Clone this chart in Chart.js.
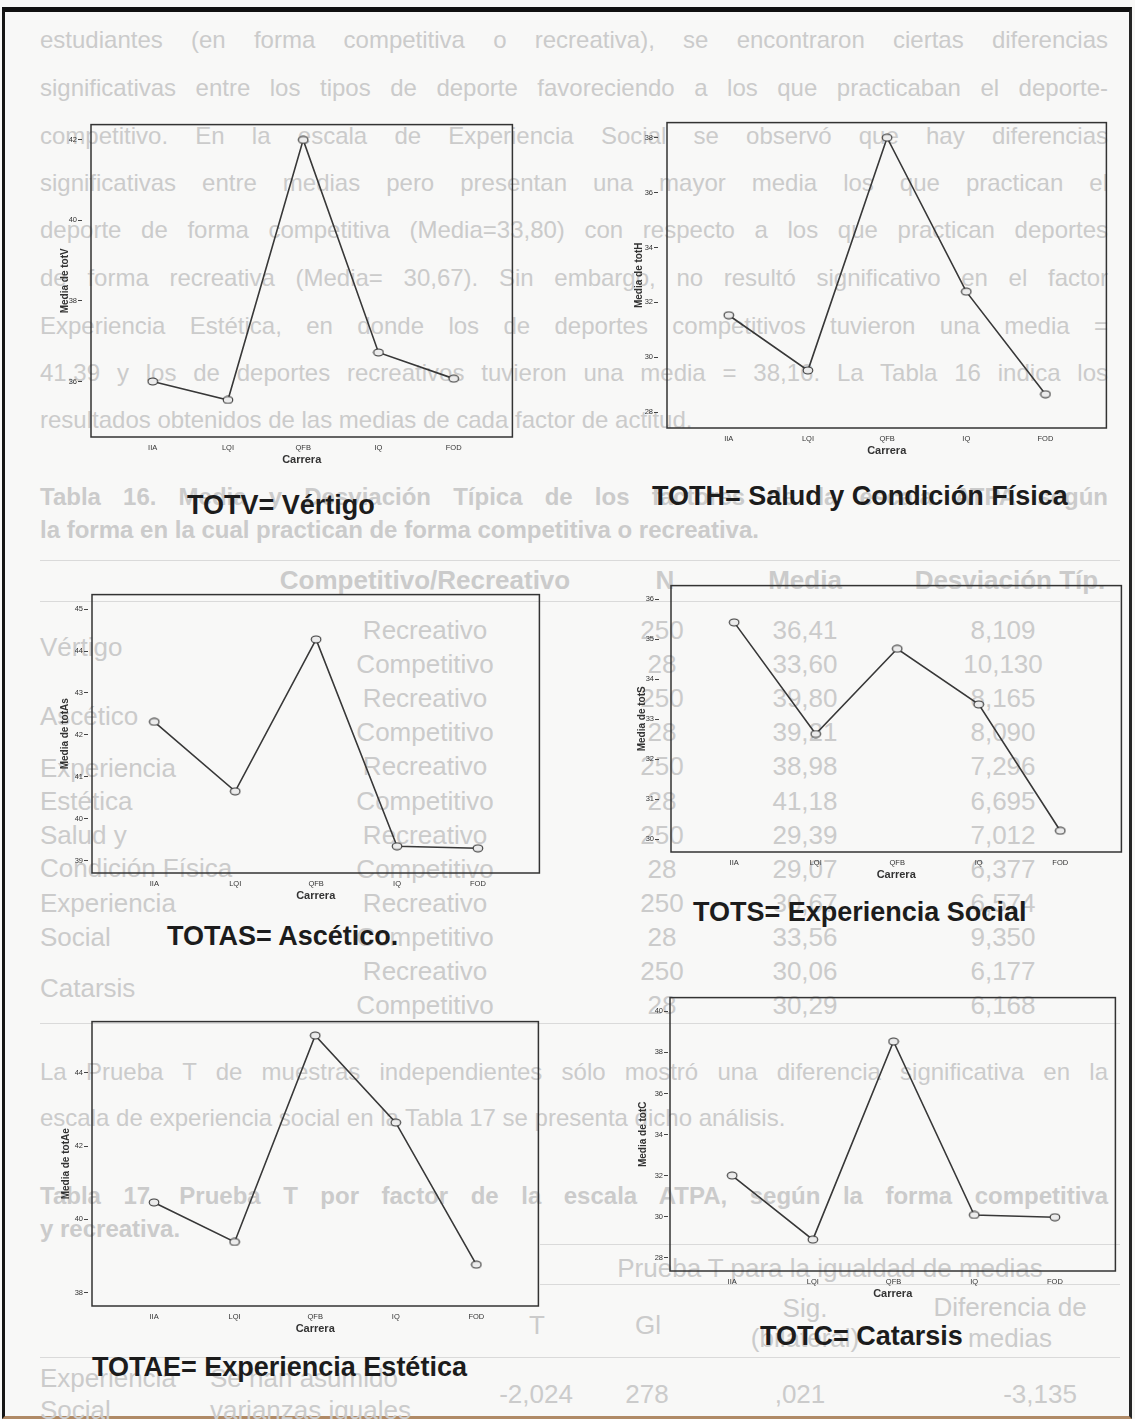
<!DOCTYPE html>
<html>
<head>
<meta charset="utf-8">
<script src="https://cdn.jsdelivr.net/npm/chart.js@4.4.1/dist/chart.umd.min.js"></script>
<style>
    html, body { margin: 0; padding: 0; }
    body {
        width: 1135px;
        height: 1419px;
        position: relative;
        overflow: hidden;
        background: #f8f8f7;
        font-family: "Liberation Sans", Arial, sans-serif;
    }
    .frame {
        position: absolute;
        left: 2px;
        top: 7px;
        width: 1124px;
        height: 1404px;
        border-left: 3px solid #151515;
        border-right: 3px solid #252525;
        border-top: 5px solid #111;
        border-bottom: 3px solid #b08a66;
    }
    /* faint page text showing through behind the plots */
    .ghost {
        position: absolute;
        color: #cbcbcb;
        font-size: 26px;
        line-height: 30px;
        white-space: nowrap;
    }
    .ghost.line {
        left: 40px;
        width: 1068px;
        font-size: 24px;
        line-height: 28px;
    }
    .ghost.p { font-size: 24px; line-height: 28px; }
    .ghost.b { font-weight: bold; }
    .ghost.c { text-align: center; }
    .rule { position: absolute; left: 40px; width: 1080px; height: 1px; background: #dadada; }
    .chart { position: absolute; }
    .title {
        position: absolute;
        font-weight: bold;
        font-size: 27px;
        line-height: 27px;
        color: #1c1c1c;
        white-space: nowrap;
    }
</style>
</head>
<body>
<div class="frame"></div>

<div class="ghost line" style="top:26px;"><span>estudiantes (en forma competitiva o recreativa), se encontraron ciertas diferencias</span></div>
<div class="ghost line" style="top:74px;"><span>significativas entre los tipos de deporte favoreciendo a los que practicaban el deporte-</span></div>
<div class="ghost line" style="top:122px;"><span>competitivo. En la escala de Experiencia Social se observó que hay diferencias</span></div>
<div class="ghost line" style="top:169px;"><span>significativas entre medias pero presentan una mayor media los que practican el</span></div>
<div class="ghost line" style="top:216px;"><span>deporte de forma competitiva (Media=33,80) con respecto a los que practican deportes</span></div>
<div class="ghost line" style="top:264px;"><span>de forma recreativa (Media= 30,67). Sin embargo, no resultó significativo en el factor</span></div>
<div class="ghost line" style="top:312px;"><span>Experiencia Estética, en donde los de deportes competitivos tuvieron una media =</span></div>
<div class="ghost line" style="top:359px;"><span>41,39 y los de deportes recreativos tuvieron una media = 38,16. La Tabla 16 indica los</span></div>
<div class="ghost p" style="left:40px; top:406px;">resultados obtenidos de las medias de cada factor de actitud.</div>

<div class="ghost line b" style="top:483px;"><span>Tabla 16. Media y Desviación Típica de los factores de la escala ATPA según</span></div>
<div class="ghost p b" style="left:40px; top:516px;">la forma en la cual practican de forma competitiva o recreativa.</div>

<div class="rule" style="top:560px;"></div>
<div class="ghost b c" style="left:260px; width:330px; top:565px;">Competitivo/Recreativo</div>
<div class="ghost b c" style="left:620px; width:90px; top:565px;">N</div>
<div class="ghost b c" style="left:750px; width:110px; top:565px;">Media</div>
<div class="ghost b c" style="left:900px; width:220px; top:565px;">Desviación Típ.</div>
<div class="rule" style="top:601px;"></div>

<div class="ghost" style="left:40px; top:632px;">Vértigo</div>
<div class="ghost" style="left:40px; top:701px;">Ascético</div>
<div class="ghost" style="left:40px; top:753px;">Experiencia</div>
<div class="ghost" style="left:40px; top:786px;">Estética</div>
<div class="ghost" style="left:40px; top:820px;">Salud y</div>
<div class="ghost" style="left:40px; top:853px;">Condición Física</div>
<div class="ghost" style="left:40px; top:888px;">Experiencia</div>
<div class="ghost" style="left:40px; top:922px;">Social</div>
<div class="ghost" style="left:40px; top:973px;">Catarsis</div>

<div id="tableRows"></div>
<div class="rule" style="top:1023px;"></div>

<div class="ghost line" style="top:1058px;"><span>La Prueba T de muestras independientes sólo mostró una diferencia significativa en la</span></div>
<div class="ghost p" style="left:40px; top:1104px;">escala de experiencia social en la Tabla 17 se presenta dicho análisis.</div>
<div class="ghost line b" style="top:1182px;"><span>Tabla 17. Prueba T por factor de la escala ATPA, según la forma competitiva</span></div>
<div class="ghost p b" style="left:40px; top:1215px;">y recreativa.</div>
<div class="rule" style="left:540px; width:580px; top:1244px;"></div>
<div class="ghost c" style="left:550px; width:560px; top:1253px;">Prueba T para la igualdad de medias</div>
<div class="rule" style="left:540px; width:580px; top:1284px;"></div>
<div class="ghost c" style="left:497px; width:80px; top:1310px;">T</div>
<div class="ghost c" style="left:608px; width:80px; top:1310px;">Gl</div>
<div class="ghost c" style="left:730px; width:150px; top:1293px;">Sig.</div>
<div class="ghost c" style="left:730px; width:150px; top:1323px;">(bilateral)</div>
<div class="ghost c" style="left:910px; width:200px; top:1292px;">Diferencia de</div>
<div class="ghost c" style="left:910px; width:200px; top:1323px;">medias</div>
<div class="rule" style="top:1357px;"></div>
<div class="ghost" style="left:40px; top:1363px;">Experiencia</div>
<div class="ghost" style="left:40px; top:1395px;">Social</div>
<div class="ghost" style="left:210px; top:1363px;">Se han asumido</div>
<div class="ghost" style="left:210px; top:1395px;">varianzas iguales</div>
<div class="ghost c" style="left:486px; width:100px; top:1379px;">-2,024</div>
<div class="ghost c" style="left:602px; width:90px; top:1379px;">278</div>
<div class="ghost c" style="left:740px; width:120px; top:1379px;">,021</div>
<div class="ghost c" style="left:975px; width:130px; top:1379px;">-3,135</div>

<div class="title" style="left:187px; top:492px;">TOTV= Vértigo</div>
<div class="title" style="left:652px; top:483px;">TOTH= Salud y Condición Física</div>
<div class="title" style="left:167px; top:923px;">TOTAS= Ascético.</div>
<div class="title" style="left:693px; top:899px;">TOTS= Experiencia Social</div>
<div class="title" style="left:92px; top:1354px;">TOTAE= Experiencia Estética</div>
<div class="title" style="left:760px; top:1323px;">TOTC= Catarsis</div>

<script>
    const carreras = ['IIA', 'LQI', 'QFB', 'IQ', 'FOD'];

    const totV = [36.0, 35.54, 42.0, 36.72, 36.07];
    const totH = [31.53, 29.52, 38.0, 32.39, 28.65];
    const totAs = [42.31, 40.65, 44.28, 39.34, 39.29];
    const totS = [35.42, 32.63, 34.76, 33.37, 30.21];
    const totAe = [40.46, 39.38, 45.02, 42.64, 38.76];
    const totC = [32.0, 28.88, 38.53, 30.08, 29.97];

    const ticksV = [36, 38, 40, 42];
    const ticksH = [28, 30, 32, 34, 36, 38];
    const ticksAs = [39, 40, 41, 42, 43, 44, 45];
    const ticksS = [30, 31, 32, 33, 34, 35, 36];
    const ticksAe = [38, 40, 42, 44];
    const ticksC = [28, 30, 32, 34, 36, 38, 40];

    // faint table behind the plots (Tabla 16)
    const formas = ['Recreativo', 'Competitivo'];
    const tablaN = ['250', '28', '250', '28', '250', '28', '250', '28', '250', '28', '250', '28'];
    const tablaMedia = ['36,41', '33,60', '39,80', '39,21', '38,98', '41,18', '29,39', '29,07', '30,67', '33,56', '30,06', '30,29'];
    const tablaDT = ['8,109', '10,130', '8,165', '8,090', '7,296', '6,695', '7,012', '6,377', '6,574', '9,350', '6,177', '6,168'];

    const rowsBox = document.getElementById('tableRows');
    tablaN.forEach((n, i) => {
        const top = 615 + i * 34.1;
        const cells = [
            [formas[i % 2], 330, 190],
            [n, 617, 90],
            [tablaMedia[i], 750, 110],
            [tablaDT[i], 938, 130]
        ];
        cells.forEach(([text, left, width]) => {
            const d = document.createElement('div');
            d.className = 'ghost c';
            d.style.left = left + 'px';
            d.style.width = width + 'px';
            d.style.top = top + 'px';
            d.textContent = text;
            rowsBox.appendChild(d);
        });
    });

    // stretch each full paragraph line across the column, like justified text
    document.querySelectorAll('.ghost.line').forEach((el) => {
        const span = el.firstElementChild;
        const full = 1068;
        let natural = span.getBoundingClientRect().width;
        if (natural > full) {
            const size = parseFloat(getComputedStyle(el).fontSize);
            el.style.fontSize = (size * full / natural) + 'px';
            natural = span.getBoundingClientRect().width;
        }
        const spaces = (span.textContent.match(/ /g) || []).length;
        if (spaces) el.style.wordSpacing = ((full - natural) / spaces) + 'px';
    });

    // plot box in page pixels [left, top, right, bottom], axis ranges, tick gap, y title offset
    const panels = [
        { label: 'Media de totV', values: totV, ticks: ticksV, box: [91, 124, 513, 437], y: [34.62, 42.38], x: [-0.82, 4.78], gap: 9, off: 26 },
        { label: 'Media de totH', values: totH, ticks: ticksH, box: [667, 122, 1107, 428], y: [27.42, 38.55], x: [-0.78, 4.77], gap: 9, off: 28 },
        { label: 'Media de totAs', values: totAs, ticks: ticksAs, box: [92, 594, 540, 873], y: [38.7, 45.35], x: [-0.77, 4.76], gap: 4, off: 27 },
        { label: 'Media de totS', values: totS, ticks: ticksS, box: [671, 585, 1122, 852], y: [29.68, 36.34], x: [-0.775, 4.75], gap: 12, off: 29 },
        { label: 'Media de totAe', values: totAe, ticks: ticksAe, box: [92, 1021, 539, 1306], y: [37.63, 45.4], x: [-0.77, 4.77], gap: 4, off: 26 },
        { label: 'Media de totC', values: totC, ticks: ticksC, box: [670, 997, 1116, 1271], y: [27.35, 40.67], x: [-0.77, 4.75], gap: 2, off: 27 }
    ];

    const padL = 42, padT = 6, padR = 6, padB = 34;
    const ink = '#333';

    // hollow oval marker like the SPSS plots
    const marker = document.createElement('canvas');
    marker.width = 12;
    marker.height = 9;
    (function () {
        const c = marker.getContext('2d');
        c.beginPath();
        c.ellipse(6, 4.5, 4.8, 3.5, 0, 0, Math.PI * 2);
        c.fillStyle = '#ececec';
        c.fill();
        c.lineWidth = 1.1;
        c.strokeStyle = '#333';
        c.stroke();
    })();

    const boxPlugin = {
        id: 'plotBox',
        afterDraw(chart) {
            const { ctx, chartArea: a } = chart;
            ctx.save();
            ctx.strokeStyle = ink;
            ctx.lineWidth = 1.5;
            ctx.strokeRect(a.left, a.top, a.right - a.left, a.bottom - a.top);
            ctx.restore();
        }
    };

    panels.forEach((p) => {
        const [l, t, r, b] = p.box;
        const canvas = document.createElement('canvas');
        const w = r - l + padL + padR;
        const h = b - t + padT + padB;
        canvas.width = w;
        canvas.height = h;
        canvas.className = 'chart';
        canvas.style.left = (l - padL) + 'px';
        canvas.style.top = (t - padT) + 'px';
        canvas.style.width = w + 'px';
        canvas.style.height = h + 'px';
        document.body.appendChild(canvas);

        new Chart(canvas, {
            type: 'line',
            data: {
                datasets: [{
                    data: p.values.map((v, i) => ({ x: i, y: v })),
                    borderColor: '#383838',
                    borderWidth: 1.6,
                    pointStyle: marker,
                    pointRadius: 5,
                    tension: 0
                }]
            },
            options: {
                responsive: false,
                animation: false,
                layout: { padding: { left: 0, top: padT, right: padR, bottom: 0 } },
                plugins: {
                    legend: { display: false },
                    tooltip: { enabled: false }
                },
                scales: {
                    x: {
                        type: 'linear',
                        min: p.x[0],
                        max: p.x[1],
                        afterBuildTicks: (s) => { s.ticks = carreras.map((c, i) => ({ value: i })); },
                        afterFit: (s) => { s.height = padB; },
                        grid: { display: false, drawTicks: false },
                        border: { display: false },
                        ticks: {
                            padding: 6,
                            autoSkip: false,
                            maxRotation: 0,
                            color: ink,
                            font: { size: 7.5, family: 'Liberation Sans' },
                            callback: (v) => carreras[v]
                        },
                        title: {
                            display: true,
                            text: 'Carrera',
                            color: ink,
                            font: { size: 11, weight: 'bold', family: 'Liberation Sans' },
                            padding: { top: 0, bottom: 4 }
                        }
                    },
                    y: {
                        min: p.y[0],
                        max: p.y[1],
                        afterBuildTicks: (s) => { s.ticks = p.ticks.map((v) => ({ value: v })); },
                        afterFit: (s) => { s.width = padL; },
                        grid: {
                            drawOnChartArea: false,
                            tickLength: p.gap + 4,
                            tickBorderDash: [4, p.gap],
                            tickColor: '#444',
                            tickWidth: 1
                        },
                        border: { display: false },
                        ticks: {
                            padding: 1,
                            color: ink,
                            font: { size: 7.5, family: 'Liberation Sans' }
                        },
                        title: {
                            display: true,
                            text: p.label,
                            color: ink,
                            font: { size: 10, weight: 'bold', family: 'Liberation Sans' },
                            padding: { top: padL - p.off - 6, bottom: 0 }
                        }
                    }
                }
            },
            plugins: [boxPlugin]
        });
    });
</script>
</body>
</html>
